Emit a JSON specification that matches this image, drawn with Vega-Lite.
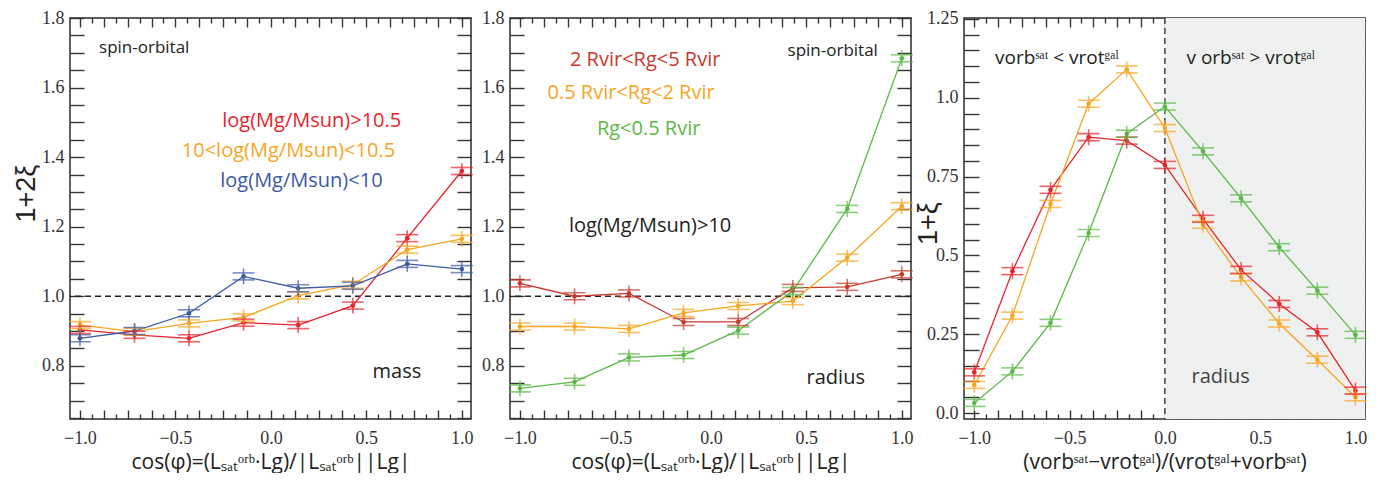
{
  "$schema": "https://vega.github.io/schema/vega-lite/v6.json",
  "padding": {"left": 11, "top": 8, "right": 0, "bottom": 0},
  "background": "white",
  "config": {
    "view": {"stroke": "#2b2b2b", "strokeWidth": 1.5},
    "axis": {"domain": false, "grid": false, "labelFont": "Liberation Serif", "labelFontSize": 18, "labelColor": "#333333", "tickColor": "#333333", "tickWidth": 1.4, "titleFont": "Open Sans", "titleFontWeight": "normal", "titleColor": "#222222", "labelOverlap": false, "labelBound": false, "labelFlush": false},
    "text": {"font": "Open Sans"}
  },
  "datasets": {
    "p1": [
      {"x": -1, "y": 0.903, "s": "r1"}, {"x": -0.714, "y": 0.889, "s": "r1"}, {"x": -0.429, "y": 0.879, "s": "r1"}, {"x": -0.143, "y": 0.924, "s": "r1"}, {"x": 0.143, "y": 0.917, "s": "r1"}, {"x": 0.429, "y": 0.973, "s": "r1"}, {"x": 0.714, "y": 1.167, "s": "r1"}, {"x": 1, "y": 1.36, "s": "r1"},
      {"x": -1, "y": 0.917, "s": "o"}, {"x": -0.714, "y": 0.898, "s": "o"}, {"x": -0.429, "y": 0.922, "s": "o"}, {"x": -0.143, "y": 0.939, "s": "o"}, {"x": 0.143, "y": 1.002, "s": "o"}, {"x": 0.429, "y": 1.033, "s": "o"}, {"x": 0.714, "y": 1.134, "s": "o"}, {"x": 1, "y": 1.165, "s": "o"},
      {"x": -1, "y": 0.879, "s": "b"}, {"x": -0.714, "y": 0.9, "s": "b"}, {"x": -0.429, "y": 0.951, "s": "b"}, {"x": -0.143, "y": 1.057, "s": "b"}, {"x": 0.143, "y": 1.023, "s": "b"}, {"x": 0.429, "y": 1.03, "s": "b"}, {"x": 0.714, "y": 1.093, "s": "b"}, {"x": 1, "y": 1.078, "s": "b"}
    ],
    "p2": [
      {"x": -1, "y": 1.037, "s": "r2"}, {"x": -0.714, "y": 1.0, "s": "r2"}, {"x": -0.429, "y": 1.008, "s": "r2"}, {"x": -0.143, "y": 0.926, "s": "r2"}, {"x": 0.143, "y": 0.926, "s": "r2"}, {"x": 0.429, "y": 1.024, "s": "r2"}, {"x": 0.714, "y": 1.027, "s": "r2"}, {"x": 1, "y": 1.063, "s": "r2"},
      {"x": -1, "y": 0.913, "s": "o"}, {"x": -0.714, "y": 0.913, "s": "o"}, {"x": -0.429, "y": 0.906, "s": "o"}, {"x": -0.143, "y": 0.952, "s": "o"}, {"x": 0.143, "y": 0.972, "s": "o"}, {"x": 0.429, "y": 0.986, "s": "o"}, {"x": 0.714, "y": 1.111, "s": "o"}, {"x": 1, "y": 1.259, "s": "o"},
      {"x": -1, "y": 0.735, "s": "g"}, {"x": -0.714, "y": 0.754, "s": "g"}, {"x": -0.429, "y": 0.824, "s": "g"}, {"x": -0.143, "y": 0.831, "s": "g"}, {"x": 0.143, "y": 0.901, "s": "g"}, {"x": 0.429, "y": 1.015, "s": "g"}, {"x": 0.714, "y": 1.251, "s": "g"}, {"x": 1, "y": 1.684, "s": "g"}
    ],
    "p3": [
      {"x": -1, "y": 0.129, "s": "r1"}, {"x": -0.8, "y": 0.45, "s": "r1"}, {"x": -0.6, "y": 0.708, "s": "r1"}, {"x": -0.4, "y": 0.875, "s": "r1"}, {"x": -0.2, "y": 0.864, "s": "r1"}, {"x": 0, "y": 0.787, "s": "r1"}, {"x": 0.2, "y": 0.616, "s": "r1"}, {"x": 0.4, "y": 0.454, "s": "r1"}, {"x": 0.6, "y": 0.346, "s": "r1"}, {"x": 0.8, "y": 0.256, "s": "r1"}, {"x": 1, "y": 0.071, "s": "r1"},
      {"x": -1, "y": 0.089, "s": "o"}, {"x": -0.8, "y": 0.309, "s": "o"}, {"x": -0.6, "y": 0.663, "s": "o"}, {"x": -0.4, "y": 0.981, "s": "o"}, {"x": -0.2, "y": 1.09, "s": "o"}, {"x": 0, "y": 0.904, "s": "o"}, {"x": 0.2, "y": 0.597, "s": "o"}, {"x": 0.4, "y": 0.43, "s": "o"}, {"x": 0.6, "y": 0.284, "s": "o"}, {"x": 0.8, "y": 0.169, "s": "o"}, {"x": 1, "y": 0.05, "s": "o"},
      {"x": -1, "y": 0.032, "s": "g"}, {"x": -0.8, "y": 0.132, "s": "g"}, {"x": -0.6, "y": 0.286, "s": "g"}, {"x": -0.4, "y": 0.571, "s": "g"}, {"x": -0.2, "y": 0.886, "s": "g"}, {"x": 0, "y": 0.972, "s": "g"}, {"x": 0.2, "y": 0.83, "s": "g"}, {"x": 0.4, "y": 0.681, "s": "g"}, {"x": 0.6, "y": 0.526, "s": "g"}, {"x": 0.8, "y": 0.388, "s": "g"}, {"x": 1, "y": 0.248, "s": "g"}
    ]
  },
  "spacing": -1,
  "hconcat": [
    {
      "spacing": 6,
      "hconcat": [
        {
          "width": 401, "height": 401,
          "resolve": {"axis": {"x": "independent", "y": "independent"}},
          "layer": [
            {"data": {"values": [{}]}, "mark": {"type": "rule", "strokeDash": [6, 4], "color": "#222222", "strokeWidth": 1.3},
             "encoding": {"y": {"datum": 1, "type": "quantitative", "scale": {"domain": [0.647, 1.8], "nice": false, "zero": false}, "axis": null}}},
            {"data": {"name": "p1"}, "mark": {"type": "line", "strokeWidth": 1.3},
             "encoding": {
               "x": {"field": "x", "type": "quantitative", "scale": {"domain": [-1.052, 1.048], "nice": false, "zero": false},
                 "axis": {"orient": "bottom", "values": [-1, -0.5, 0, 0.5, 1], "format": ".1f", "ticks": false, "labelPadding": 10,
                   "title": "cos(φ)=(Lₛₐₜᵒʳᵇ·Lg)/|Lₛₐₜᵒʳᵇ||Lg|", "titleFontSize": 21, "titlePadding": 4}},
               "y": {"field": "y", "type": "quantitative", "scale": {"domain": [0.647, 1.8], "nice": false, "zero": false},
                 "axis": {"orient": "left", "values": [0.8, 1, 1.2, 1.4, 1.6, 1.8], "format": ".1f", "ticks": false, "labelPadding": 6,
                   "title": "1+2ξ", "titleFont": "Liberation Sans", "titleFontSize": 27, "titleX": -44, "titleY": 175, "titleBaseline": "middle", "titleAlign": "center"}},
               "color": {"field": "s", "type": "nominal", "scale": {"domain": ["r1", "o", "b", "r2", "g", "k"], "range": ["#e8232b", "#f8a51f", "#3c5aa6", "#c9382c", "#5bb947", "#222222"]}, "legend": null}}},
            {"data": {"name": "p1"}, "mark": {"type": "circle", "size": 22, "opacity": 1},
             "encoding": {"x": {"field": "x", "type": "quantitative", "scale": {"domain": [-1.052, 1.048], "nice": false, "zero": false}, "axis": null},
               "y": {"field": "y", "type": "quantitative", "scale": {"domain": [0.647, 1.8], "nice": false, "zero": false}, "axis": null},
               "color": {"field": "s", "type": "nominal", "scale": {"domain": ["r1", "o", "b", "r2", "g", "k"], "range": ["#e8232b", "#f8a51f", "#3c5aa6", "#c9382c", "#5bb947", "#222222"]}, "legend": null}}},
            {"data": {"name": "p1"}, "mark": {"type": "tick", "orient": "vertical", "size": 16, "thickness": 1.6},
             "encoding": {"x": {"field": "x", "type": "quantitative", "scale": {"domain": [-1.052, 1.048], "nice": false, "zero": false}, "axis": null},
               "y": {"field": "y", "type": "quantitative", "scale": {"domain": [0.647, 1.8], "nice": false, "zero": false}, "axis": null},
               "color": {"field": "s", "type": "nominal", "scale": {"domain": ["r1", "o", "b", "r2", "g", "k"], "range": ["#e8232b", "#f8a51f", "#3c5aa6", "#c9382c", "#5bb947", "#222222"]}, "legend": null}}},
            {"data": {"name": "p1"}, "mark": {"type": "tick", "orient": "horizontal", "size": 22, "thickness": 1.6, "yOffset": -3.5},
             "encoding": {"x": {"field": "x", "type": "quantitative", "scale": {"domain": [-1.052, 1.048], "nice": false, "zero": false}, "axis": null},
               "y": {"field": "y", "type": "quantitative", "scale": {"domain": [0.647, 1.8], "nice": false, "zero": false}, "axis": null},
               "color": {"field": "s", "type": "nominal", "scale": {"domain": ["r1", "o", "b", "r2", "g", "k"], "range": ["#e8232b", "#f8a51f", "#3c5aa6", "#c9382c", "#5bb947", "#222222"]}, "legend": null}}},
            {"data": {"name": "p1"}, "mark": {"type": "tick", "orient": "horizontal", "size": 22, "thickness": 1.6, "yOffset": 3.5},
             "encoding": {"x": {"field": "x", "type": "quantitative", "scale": {"domain": [-1.052, 1.048], "nice": false, "zero": false}, "axis": null},
               "y": {"field": "y", "type": "quantitative", "scale": {"domain": [0.647, 1.8], "nice": false, "zero": false}, "axis": null},
               "color": {"field": "s", "type": "nominal", "scale": {"domain": ["r1", "o", "b", "r2", "g", "k"], "range": ["#e8232b", "#f8a51f", "#3c5aa6", "#c9382c", "#5bb947", "#222222"]}, "legend": null}}},
            {"data": {"values": [{"x": -0.9, "y": 1.714, "t": "spin-orbital", "s": "k"}]}, "mark": {"type": "text", "fontSize": 17, "align": "left", "baseline": "middle"},
             "encoding": {"x": {"field": "x", "type": "quantitative", "scale": {"domain": [-1.052, 1.048], "nice": false, "zero": false}, "axis": null},
               "y": {"field": "y", "type": "quantitative", "scale": {"domain": [0.647, 1.8], "nice": false, "zero": false}, "axis": null},
               "text": {"field": "t"},
               "color": {"field": "s", "type": "nominal", "scale": {"domain": ["r1", "o", "b", "r2", "g", "k"], "range": ["#e8232b", "#f8a51f", "#3c5aa6", "#c9382c", "#5bb947", "#222222"]}, "legend": null}}},
            {"data": {"values": [{"x": 0.214, "y": 1.503, "t": "log(Mg/Msun)>10.5", "s": "r1"}, {"x": 0.092, "y": 1.417, "t": "10<log(Mg/Msun)<10.5", "s": "o"}, {"x": 0.16, "y": 1.33, "t": "log(Mg/Msun)<10", "s": "b"}, {"x": 0.66, "y": 0.782, "t": "mass", "s": "k"}]},
             "mark": {"type": "text", "fontSize": 20, "align": "center", "baseline": "middle"},
             "encoding": {"x": {"field": "x", "type": "quantitative", "scale": {"domain": [-1.052, 1.048], "nice": false, "zero": false}, "axis": null},
               "y": {"field": "y", "type": "quantitative", "scale": {"domain": [0.647, 1.8], "nice": false, "zero": false}, "axis": null},
               "text": {"field": "t"},
               "color": {"field": "s", "type": "nominal", "scale": {"domain": ["r1", "o", "b", "r2", "g", "k"], "range": ["#e8232b", "#f8a51f", "#3c5aa6", "#c9382c", "#5bb947", "#222222"]}, "legend": null}}},
            {"data": {"name": "p1"}, "mark": {"type": "point", "opacity": 0},
             "encoding": {
               "x": {"field": "x", "type": "quantitative", "scale": {"domain": [-1.052, 1.048], "nice": false, "zero": false},
                 "axis": {"orient": "bottom", "values": [-1, -0.875, -0.75, -0.625, -0.5, -0.375, -0.25, -0.125, 0, 0.125, 0.25, 0.375, 0.5, 0.625, 0.75, 0.875, 1], "labels": false, "title": null, "tickSize": 9, "offset": -9}},
               "y": {"field": "y", "type": "quantitative", "scale": {"domain": [0.647, 1.8], "nice": false, "zero": false},
                 "axis": {"orient": "left", "values": [0.65, 0.7, 0.75, 0.8, 0.85, 0.9, 0.95, 1, 1.05, 1.1, 1.15, 1.2, 1.25, 1.3, 1.35, 1.4, 1.45, 1.5, 1.55, 1.6, 1.65, 1.7, 1.75, 1.8], "labels": false, "title": null, "tickSize": 14, "offset": -14}}}},
            {"data": {"name": "p1"}, "mark": {"type": "point", "opacity": 0},
             "encoding": {
               "x": {"field": "x", "type": "quantitative", "scale": {"domain": [-1.052, 1.048], "nice": false, "zero": false},
                 "axis": {"orient": "top", "values": [-1, -0.875, -0.75, -0.625, -0.5, -0.375, -0.25, -0.125, 0, 0.125, 0.25, 0.375, 0.5, 0.625, 0.75, 0.875, 1], "labels": false, "title": null, "tickSize": 9, "offset": -9}},
               "y": {"field": "y", "type": "quantitative", "scale": {"domain": [0.647, 1.8], "nice": false, "zero": false},
                 "axis": {"orient": "right", "values": [0.65, 0.7, 0.75, 0.8, 0.85, 0.9, 0.95, 1, 1.05, 1.1, 1.15, 1.2, 1.25, 1.3, 1.35, 1.4, 1.45, 1.5, 1.55, 1.6, 1.65, 1.7, 1.75, 1.8], "labels": false, "title": null, "tickSize": 14, "offset": -14}}}},
            {"data": {"name": "p1"}, "mark": {"type": "point", "opacity": 0},
             "encoding": {
               "x": {"field": "x", "type": "quantitative", "scale": {"domain": [-1.052, 1.048], "nice": false, "zero": false},
                 "axis": {"orient": "bottom", "values": [-0.9375, -0.8125, -0.6875, -0.5625, -0.4375, -0.3125, -0.1875, -0.0625, 0.0625, 0.1875, 0.3125, 0.4375, 0.5625, 0.6875, 0.8125, 0.9375], "labels": false, "title": null, "tickSize": 5, "offset": -5}},
               "y": {"field": "y", "type": "quantitative", "scale": {"domain": [0.647, 1.8], "nice": false, "zero": false}, "axis": null}}},
            {"data": {"name": "p1"}, "mark": {"type": "point", "opacity": 0},
             "encoding": {
               "x": {"field": "x", "type": "quantitative", "scale": {"domain": [-1.052, 1.048], "nice": false, "zero": false},
                 "axis": {"orient": "top", "values": [-0.9375, -0.8125, -0.6875, -0.5625, -0.4375, -0.3125, -0.1875, -0.0625, 0.0625, 0.1875, 0.3125, 0.4375, 0.5625, 0.6875, 0.8125, 0.9375], "labels": false, "title": null, "tickSize": 5, "offset": -5}},
               "y": {"field": "y", "type": "quantitative", "scale": {"domain": [0.647, 1.8], "nice": false, "zero": false}, "axis": null}}}
          ]
        },
        {
          "width": 401, "height": 401,
          "resolve": {"axis": {"x": "independent", "y": "independent"}},
          "layer": [
            {"data": {"values": [{}]}, "mark": {"type": "rule", "strokeDash": [6, 4], "color": "#222222", "strokeWidth": 1.3},
             "encoding": {"y": {"datum": 1, "type": "quantitative", "scale": {"domain": [0.647, 1.8], "nice": false, "zero": false}, "axis": null}}},
            {"data": {"name": "p2"}, "mark": {"type": "line", "strokeWidth": 1.3},
             "encoding": {
               "x": {"field": "x", "type": "quantitative", "scale": {"domain": [-1.052, 1.048], "nice": false, "zero": false},
                 "axis": {"orient": "bottom", "values": [-1, -0.5, 0, 0.5, 1], "format": ".1f", "ticks": false, "labelPadding": 10,
                   "title": "cos(φ)=(Lₛₐₜᵒʳᵇ·Lg)/|Lₛₐₜᵒʳᵇ||Lg|", "titleFontSize": 21, "titlePadding": 4}},
               "y": {"field": "y", "type": "quantitative", "scale": {"domain": [0.647, 1.8], "nice": false, "zero": false},
                 "axis": {"orient": "left", "values": [0.8, 1, 1.2, 1.4, 1.6, 1.8], "format": ".1f", "ticks": false, "labelPadding": 6, "title": null}},
               "color": {"field": "s", "type": "nominal", "scale": {"domain": ["r1", "o", "b", "r2", "g", "k"], "range": ["#e8232b", "#f8a51f", "#3c5aa6", "#c9382c", "#5bb947", "#222222"]}, "legend": null}}},
            {"data": {"name": "p2"}, "mark": {"type": "circle", "size": 22, "opacity": 1},
             "encoding": {"x": {"field": "x", "type": "quantitative", "scale": {"domain": [-1.052, 1.048], "nice": false, "zero": false}, "axis": null},
               "y": {"field": "y", "type": "quantitative", "scale": {"domain": [0.647, 1.8], "nice": false, "zero": false}, "axis": null},
               "color": {"field": "s", "type": "nominal", "scale": {"domain": ["r1", "o", "b", "r2", "g", "k"], "range": ["#e8232b", "#f8a51f", "#3c5aa6", "#c9382c", "#5bb947", "#222222"]}, "legend": null}}},
            {"data": {"name": "p2"}, "mark": {"type": "tick", "orient": "vertical", "size": 16, "thickness": 1.6},
             "encoding": {"x": {"field": "x", "type": "quantitative", "scale": {"domain": [-1.052, 1.048], "nice": false, "zero": false}, "axis": null},
               "y": {"field": "y", "type": "quantitative", "scale": {"domain": [0.647, 1.8], "nice": false, "zero": false}, "axis": null},
               "color": {"field": "s", "type": "nominal", "scale": {"domain": ["r1", "o", "b", "r2", "g", "k"], "range": ["#e8232b", "#f8a51f", "#3c5aa6", "#c9382c", "#5bb947", "#222222"]}, "legend": null}}},
            {"data": {"name": "p2"}, "mark": {"type": "tick", "orient": "horizontal", "size": 22, "thickness": 1.6, "yOffset": -3.5},
             "encoding": {"x": {"field": "x", "type": "quantitative", "scale": {"domain": [-1.052, 1.048], "nice": false, "zero": false}, "axis": null},
               "y": {"field": "y", "type": "quantitative", "scale": {"domain": [0.647, 1.8], "nice": false, "zero": false}, "axis": null},
               "color": {"field": "s", "type": "nominal", "scale": {"domain": ["r1", "o", "b", "r2", "g", "k"], "range": ["#e8232b", "#f8a51f", "#3c5aa6", "#c9382c", "#5bb947", "#222222"]}, "legend": null}}},
            {"data": {"name": "p2"}, "mark": {"type": "tick", "orient": "horizontal", "size": 22, "thickness": 1.6, "yOffset": 3.5},
             "encoding": {"x": {"field": "x", "type": "quantitative", "scale": {"domain": [-1.052, 1.048], "nice": false, "zero": false}, "axis": null},
               "y": {"field": "y", "type": "quantitative", "scale": {"domain": [0.647, 1.8], "nice": false, "zero": false}, "axis": null},
               "color": {"field": "s", "type": "nominal", "scale": {"domain": ["r1", "o", "b", "r2", "g", "k"], "range": ["#e8232b", "#f8a51f", "#3c5aa6", "#c9382c", "#5bb947", "#222222"]}, "legend": null}}},
            {"data": {"values": [{"x": 0.638, "y": 1.705, "t": "spin-orbital", "s": "k"}]}, "mark": {"type": "text", "fontSize": 17, "align": "center", "baseline": "middle"},
             "encoding": {"x": {"field": "x", "type": "quantitative", "scale": {"domain": [-1.052, 1.048], "nice": false, "zero": false}, "axis": null},
               "y": {"field": "y", "type": "quantitative", "scale": {"domain": [0.647, 1.8], "nice": false, "zero": false}, "axis": null},
               "text": {"field": "t"},
               "color": {"field": "s", "type": "nominal", "scale": {"domain": ["r1", "o", "b", "r2", "g", "k"], "range": ["#e8232b", "#f8a51f", "#3c5aa6", "#c9382c", "#5bb947", "#222222"]}, "legend": null}}},
            {"data": {"values": [{"x": -0.344, "y": 1.679, "t": "2 Rvir<Rg<5 Rvir", "s": "r2"}, {"x": -0.418, "y": 1.583, "t": "0.5 Rvir<Rg<2 Rvir", "s": "o"}, {"x": -0.326, "y": 1.481, "t": "Rg<0.5 Rvir", "s": "g"}, {"x": -0.318, "y": 1.201, "t": "log(Mg/Msun)>10", "s": "k"}, {"x": 0.654, "y": 0.766, "t": "radius", "s": "k"}]},
             "mark": {"type": "text", "fontSize": 20, "align": "center", "baseline": "middle"},
             "encoding": {"x": {"field": "x", "type": "quantitative", "scale": {"domain": [-1.052, 1.048], "nice": false, "zero": false}, "axis": null},
               "y": {"field": "y", "type": "quantitative", "scale": {"domain": [0.647, 1.8], "nice": false, "zero": false}, "axis": null},
               "text": {"field": "t"},
               "color": {"field": "s", "type": "nominal", "scale": {"domain": ["r1", "o", "b", "r2", "g", "k"], "range": ["#e8232b", "#f8a51f", "#3c5aa6", "#c9382c", "#5bb947", "#222222"]}, "legend": null}}},
            {"data": {"name": "p2"}, "mark": {"type": "point", "opacity": 0},
             "encoding": {
               "x": {"field": "x", "type": "quantitative", "scale": {"domain": [-1.052, 1.048], "nice": false, "zero": false},
                 "axis": {"orient": "bottom", "values": [-1, -0.875, -0.75, -0.625, -0.5, -0.375, -0.25, -0.125, 0, 0.125, 0.25, 0.375, 0.5, 0.625, 0.75, 0.875, 1], "labels": false, "title": null, "tickSize": 9, "offset": -9}},
               "y": {"field": "y", "type": "quantitative", "scale": {"domain": [0.647, 1.8], "nice": false, "zero": false},
                 "axis": {"orient": "left", "values": [0.65, 0.7, 0.75, 0.8, 0.85, 0.9, 0.95, 1, 1.05, 1.1, 1.15, 1.2, 1.25, 1.3, 1.35, 1.4, 1.45, 1.5, 1.55, 1.6, 1.65, 1.7, 1.75, 1.8], "labels": false, "title": null, "tickSize": 14, "offset": -14}}}},
            {"data": {"name": "p2"}, "mark": {"type": "point", "opacity": 0},
             "encoding": {
               "x": {"field": "x", "type": "quantitative", "scale": {"domain": [-1.052, 1.048], "nice": false, "zero": false},
                 "axis": {"orient": "top", "values": [-1, -0.875, -0.75, -0.625, -0.5, -0.375, -0.25, -0.125, 0, 0.125, 0.25, 0.375, 0.5, 0.625, 0.75, 0.875, 1], "labels": false, "title": null, "tickSize": 9, "offset": -9}},
               "y": {"field": "y", "type": "quantitative", "scale": {"domain": [0.647, 1.8], "nice": false, "zero": false},
                 "axis": {"orient": "right", "values": [0.65, 0.7, 0.75, 0.8, 0.85, 0.9, 0.95, 1, 1.05, 1.1, 1.15, 1.2, 1.25, 1.3, 1.35, 1.4, 1.45, 1.5, 1.55, 1.6, 1.65, 1.7, 1.75, 1.8], "labels": false, "title": null, "tickSize": 14, "offset": -14}}}},
            {"data": {"name": "p2"}, "mark": {"type": "point", "opacity": 0},
             "encoding": {
               "x": {"field": "x", "type": "quantitative", "scale": {"domain": [-1.052, 1.048], "nice": false, "zero": false},
                 "axis": {"orient": "bottom", "values": [-0.9375, -0.8125, -0.6875, -0.5625, -0.4375, -0.3125, -0.1875, -0.0625, 0.0625, 0.1875, 0.3125, 0.4375, 0.5625, 0.6875, 0.8125, 0.9375], "labels": false, "title": null, "tickSize": 5, "offset": -5}},
               "y": {"field": "y", "type": "quantitative", "scale": {"domain": [0.647, 1.8], "nice": false, "zero": false}, "axis": null}}},
            {"data": {"name": "p2"}, "mark": {"type": "point", "opacity": 0},
             "encoding": {
               "x": {"field": "x", "type": "quantitative", "scale": {"domain": [-1.052, 1.048], "nice": false, "zero": false},
                 "axis": {"orient": "top", "values": [-0.9375, -0.8125, -0.6875, -0.5625, -0.4375, -0.3125, -0.1875, -0.0625, 0.0625, 0.1875, 0.3125, 0.4375, 0.5625, 0.6875, 0.8125, 0.9375], "labels": false, "title": null, "tickSize": 5, "offset": -5}},
               "y": {"field": "y", "type": "quantitative", "scale": {"domain": [0.647, 1.8], "nice": false, "zero": false}, "axis": null}}}
          ]
        }
      ]
    },
    {
      "width": 401, "height": 401,
      "resolve": {"axis": {"x": "independent", "y": "independent"}},
      "layer": [
        {"data": {"values": [{}]}, "mark": {"type": "rect", "color": "#eff1f0"},
         "encoding": {"x": {"datum": 0, "type": "quantitative", "scale": {"domain": [-1.054, 1.05], "nice": false, "zero": false}, "axis": null},
           "x2": {"datum": 1.05},
           "y": {"datum": -0.019, "type": "quantitative", "scale": {"domain": [-0.019, 1.253], "nice": false, "zero": false}, "axis": null},
           "y2": {"datum": 1.253}}},
        {"data": {"values": [{}]}, "mark": {"type": "rule", "strokeDash": [6, 4], "color": "#222222", "strokeWidth": 1.3},
         "encoding": {"x": {"datum": 0, "type": "quantitative", "scale": {"domain": [-1.054, 1.05], "nice": false, "zero": false}, "axis": null}}},
        {"data": {"name": "p3"}, "mark": {"type": "line", "strokeWidth": 1.3},
         "encoding": {
           "x": {"field": "x", "type": "quantitative", "scale": {"domain": [-1.054, 1.05], "nice": false, "zero": false},
             "axis": {"orient": "bottom", "values": [-1, -0.5, 0, 0.5, 1], "format": ".1f", "ticks": false, "labelPadding": 10,
               "title": "(vorbˢᵃᵗ−vrotᵍᵃˡ)/(vrotᵍᵃˡ+vorbˢᵃᵗ)", "titleFontSize": 21, "titlePadding": 4}},
           "y": {"field": "y", "type": "quantitative", "scale": {"domain": [-0.019, 1.253], "nice": false, "zero": false},
             "axis": {"orient": "left", "values": [0, 0.25, 0.5, 0.75, 1, 1.25], "labelExpr": "datum.value==0 ? '0.0' : (datum.value==1 ? '1.0' : toString(datum.value))", "ticks": false, "labelPadding": 6,
               "title": "1+ξ", "titleFont": "Liberation Sans", "titleFontSize": 27, "titleX": -36, "titleY": 205, "titleBaseline": "middle", "titleAlign": "center"}},
           "color": {"field": "s", "type": "nominal", "scale": {"domain": ["r1", "o", "b", "r2", "g", "k"], "range": ["#e8232b", "#f8a51f", "#3c5aa6", "#c9382c", "#5bb947", "#222222"]}, "legend": null}}},
        {"data": {"name": "p3"}, "mark": {"type": "circle", "size": 22, "opacity": 1},
         "encoding": {"x": {"field": "x", "type": "quantitative", "scale": {"domain": [-1.054, 1.05], "nice": false, "zero": false}, "axis": null},
           "y": {"field": "y", "type": "quantitative", "scale": {"domain": [-0.019, 1.253], "nice": false, "zero": false}, "axis": null},
           "color": {"field": "s", "type": "nominal", "scale": {"domain": ["r1", "o", "b", "r2", "g", "k"], "range": ["#e8232b", "#f8a51f", "#3c5aa6", "#c9382c", "#5bb947", "#222222"]}, "legend": null}}},
        {"data": {"name": "p3"}, "mark": {"type": "tick", "orient": "vertical", "size": 16, "thickness": 1.6},
         "encoding": {"x": {"field": "x", "type": "quantitative", "scale": {"domain": [-1.054, 1.05], "nice": false, "zero": false}, "axis": null},
           "y": {"field": "y", "type": "quantitative", "scale": {"domain": [-0.019, 1.253], "nice": false, "zero": false}, "axis": null},
           "color": {"field": "s", "type": "nominal", "scale": {"domain": ["r1", "o", "b", "r2", "g", "k"], "range": ["#e8232b", "#f8a51f", "#3c5aa6", "#c9382c", "#5bb947", "#222222"]}, "legend": null}}},
        {"data": {"name": "p3"}, "mark": {"type": "tick", "orient": "horizontal", "size": 22, "thickness": 1.6, "yOffset": -3.5},
         "encoding": {"x": {"field": "x", "type": "quantitative", "scale": {"domain": [-1.054, 1.05], "nice": false, "zero": false}, "axis": null},
           "y": {"field": "y", "type": "quantitative", "scale": {"domain": [-0.019, 1.253], "nice": false, "zero": false}, "axis": null},
           "color": {"field": "s", "type": "nominal", "scale": {"domain": ["r1", "o", "b", "r2", "g", "k"], "range": ["#e8232b", "#f8a51f", "#3c5aa6", "#c9382c", "#5bb947", "#222222"]}, "legend": null}}},
        {"data": {"name": "p3"}, "mark": {"type": "tick", "orient": "horizontal", "size": 22, "thickness": 1.6, "yOffset": 3.5},
         "encoding": {"x": {"field": "x", "type": "quantitative", "scale": {"domain": [-1.054, 1.05], "nice": false, "zero": false}, "axis": null},
           "y": {"field": "y", "type": "quantitative", "scale": {"domain": [-0.019, 1.253], "nice": false, "zero": false}, "axis": null},
           "color": {"field": "s", "type": "nominal", "scale": {"domain": ["r1", "o", "b", "r2", "g", "k"], "range": ["#e8232b", "#f8a51f", "#3c5aa6", "#c9382c", "#5bb947", "#222222"]}, "legend": null}}},
        {"data": {"values": [{"x": -0.567, "y": 1.125, "t": "vorbˢᵃᵗ < vrotᵍᵃˡ", "s": "k"}, {"x": 0.45, "y": 1.125, "t": "v orbˢᵃᵗ > vrotᵍᵃˡ", "s": "k"}]},
         "mark": {"type": "text", "fontSize": 19, "align": "center", "baseline": "middle"},
         "encoding": {"x": {"field": "x", "type": "quantitative", "scale": {"domain": [-1.054, 1.05], "nice": false, "zero": false}, "axis": null},
           "y": {"field": "y", "type": "quantitative", "scale": {"domain": [-0.019, 1.253], "nice": false, "zero": false}, "axis": null},
           "text": {"field": "t"},
           "color": {"field": "s", "type": "nominal", "scale": {"domain": ["r1", "o", "b", "r2", "g", "k"], "range": ["#e8232b", "#f8a51f", "#3c5aa6", "#c9382c", "#5bb947", "#222222"]}, "legend": null}}},
        {"data": {"values": [{"x": 0.293, "y": 0.113, "t": "radius", "s": "k"}]},
         "mark": {"type": "text", "fontSize": 20, "align": "center", "baseline": "middle", "opacity": 0.85},
         "encoding": {"x": {"field": "x", "type": "quantitative", "scale": {"domain": [-1.054, 1.05], "nice": false, "zero": false}, "axis": null},
           "y": {"field": "y", "type": "quantitative", "scale": {"domain": [-0.019, 1.253], "nice": false, "zero": false}, "axis": null},
           "text": {"field": "t"},
           "color": {"field": "s", "type": "nominal", "scale": {"domain": ["r1", "o", "b", "r2", "g", "k"], "range": ["#e8232b", "#f8a51f", "#3c5aa6", "#c9382c", "#5bb947", "#222222"]}, "legend": null}}},
        {"data": {"name": "p3"}, "mark": {"type": "point", "opacity": 0},
         "encoding": {
           "x": {"field": "x", "type": "quantitative", "scale": {"domain": [-1.054, 1.05], "nice": false, "zero": false},
             "axis": {"orient": "bottom", "values": [-1, -0.875, -0.75, -0.625, -0.5, -0.375, -0.25, -0.125, 0, 0.125, 0.25, 0.375, 0.5, 0.625, 0.75, 0.875, 1], "labels": false, "title": null, "tickSize": 9, "offset": -9}},
           "y": {"field": "y", "type": "quantitative", "scale": {"domain": [-0.019, 1.253], "nice": false, "zero": false},
             "axis": {"orient": "left", "values": [0, 0.05, 0.1, 0.15, 0.2, 0.25, 0.3, 0.35, 0.4, 0.45, 0.5, 0.55, 0.6, 0.65, 0.7, 0.75, 0.8, 0.85, 0.9, 0.95, 1, 1.05, 1.1, 1.15, 1.2, 1.25], "labels": false, "title": null, "tickSize": 15, "offset": -15}}}},
        {"data": {"name": "p3"}, "mark": {"type": "point", "opacity": 0},
         "encoding": {
           "x": {"field": "x", "type": "quantitative", "scale": {"domain": [-1.054, 1.05], "nice": false, "zero": false},
             "axis": {"orient": "top", "values": [-1, -0.875, -0.75, -0.625, -0.5, -0.375, -0.25, -0.125, 0, 0.125, 0.25, 0.375, 0.5, 0.625, 0.75, 0.875, 1], "labels": false, "title": null, "tickSize": 9, "offset": -9}},
           "y": {"field": "y", "type": "quantitative", "scale": {"domain": [-0.019, 1.253], "nice": false, "zero": false},
             "axis": {"orient": "right", "values": [0, 0.05, 0.1, 0.15, 0.2, 0.25, 0.3, 0.35, 0.4, 0.45, 0.5, 0.55, 0.6, 0.65, 0.7, 0.75, 0.8, 0.85, 0.9, 0.95, 1, 1.05, 1.1, 1.15, 1.2, 1.25], "labels": false, "title": null, "tickSize": 15, "offset": -15}}}},
        {"data": {"name": "p3"}, "mark": {"type": "point", "opacity": 0},
         "encoding": {
           "x": {"field": "x", "type": "quantitative", "scale": {"domain": [-1.054, 1.05], "nice": false, "zero": false},
             "axis": {"orient": "bottom", "values": [-0.9375, -0.8125, -0.6875, -0.5625, -0.4375, -0.3125, -0.1875, -0.0625, 0.0625, 0.1875, 0.3125, 0.4375, 0.5625, 0.6875, 0.8125, 0.9375], "labels": false, "title": null, "tickSize": 5, "offset": -5}},
           "y": {"field": "y", "type": "quantitative", "scale": {"domain": [-0.019, 1.253], "nice": false, "zero": false}, "axis": null}}},
        {"data": {"name": "p3"}, "mark": {"type": "point", "opacity": 0},
         "encoding": {
           "x": {"field": "x", "type": "quantitative", "scale": {"domain": [-1.054, 1.05], "nice": false, "zero": false},
             "axis": {"orient": "top", "values": [-0.9375, -0.8125, -0.6875, -0.5625, -0.4375, -0.3125, -0.1875, -0.0625, 0.0625, 0.1875, 0.3125, 0.4375, 0.5625, 0.6875, 0.8125, 0.9375], "labels": false, "title": null, "tickSize": 5, "offset": -5}},
           "y": {"field": "y", "type": "quantitative", "scale": {"domain": [-0.019, 1.253], "nice": false, "zero": false}, "axis": null}}}
      ]
    }
  ]
}
